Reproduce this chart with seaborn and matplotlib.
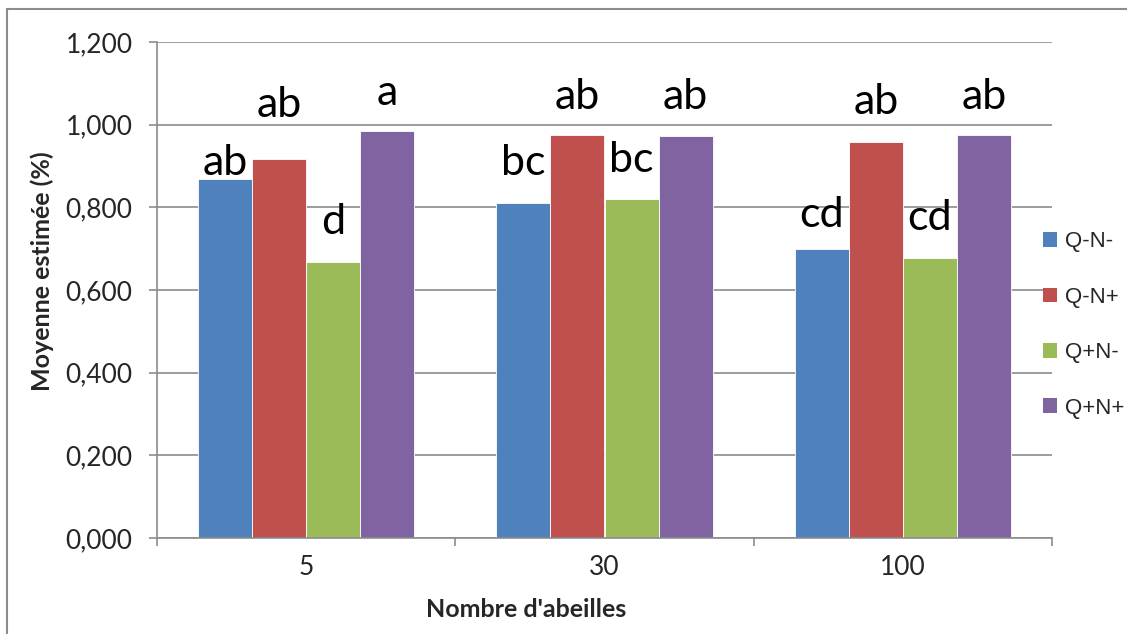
import numpy as np
import pandas as pd
import matplotlib
matplotlib.use('Agg')
import matplotlib.pyplot as plt
from matplotlib.patches import Rectangle
import seaborn as sns

sns.set_theme(style = 'white')
plt.rcParams['font.family'] = ['Lato', 'DejaVu Sans']

# data
groups = ['5', '30', '100']
series = ['Q-N-', 'Q-N+', 'Q+N-', 'Q+N+']
colors = ['#4F81BD', '#C0504D', '#9BBB59', '#8064A2']

values = {
    'Q-N-': [0.868, 0.810, 0.699],
    'Q-N+': [0.918, 0.975, 0.958],
    'Q+N-': [0.667, 0.821, 0.677],
    'Q+N+': [0.985, 0.972, 0.975],
}

letters = {
    'Q-N-': ['ab', 'bc', 'cd'],
    'Q-N+': ['ab', 'ab', 'ab'],
    'Q+N-': ['d', 'bc', 'cd'],
    'Q+N+': ['a', 'ab', 'ab'],
}

# vertical centre of each letter label (data units)
letter_y = {
    'Q-N-': [0.907, 0.907, 0.781],
    'Q-N+': [1.048, 1.067, 1.055],
    'Q+N-': [0.765, 0.915, 0.774],
    'Q+N+': [1.077, 1.067, 1.067],
}

y_ticks = [0.0, 0.2, 0.4, 0.6, 0.8, 1.0, 1.2]
y_tick_labels = ['0,000', '0,200', '0,400', '0,600', '0,800', '1,000', '1,200']

rows = []
for s in series:
    for g, v in zip(groups, values[s]):
        rows.append({'group': g, 'series': s, 'value': v})
df = pd.DataFrame(rows)

W, H = 1127, 634
fig = plt.figure(figsize = (W / 100, H / 100), dpi = 100)
ax = fig.add_axes([157 / W, 1 - 538 / H, (1052 - 157) / W, (538 - 42) / H])

# chart border
fig.patches.append(Rectangle((7 / W, -0.05), 1.1, 1 - 9 / H + 0.05, transform = fig.transFigure,
                             fill = False, edgecolor = '#8c8c8c', linewidth = 1.5))

sns.barplot(data = df, x = 'group', y = 'value', hue = 'series', order = groups, hue_order = series,
            palette = colors, width = 0.725, saturation = 1, edgecolor = 'white', linewidth = 0.6,
            legend = True, ax = ax)

ax.set_xlim(-0.5, 2.5)
ax.set_ylim(0, 1.2)
ax.set_yticks(y_ticks)
ax.set_yticklabels(y_tick_labels, fontsize = 19)
ax.yaxis.grid(True, color = '#8c8c8c', linewidth = 1.2)
ax.set_axisbelow(True)

ax.tick_params(axis = 'y', length = 5.5, width = 1.2, color = '#8c8c8c', pad = 12, direction = 'out', left = True)
ax.set_xticks([0, 1, 2])
ax.set_xticklabels(groups, fontsize = 19)
ax.set_xticks([-0.5, 0.5, 1.5, 2.5], minor = True)
ax.tick_params(axis = 'x', which = 'major', length = 0, pad = 12)
ax.tick_params(axis = 'x', which = 'minor', length = 6, width = 1.2, color = '#8c8c8c', direction = 'out', bottom = True)

for side in ['top', 'right']:
    ax.spines[side].set_visible(False)
for side in ['left', 'bottom']:
    ax.spines[side].set_color('#8c8c8c')
    ax.spines[side].set_linewidth(1.2)

ax.set_xlabel("Nombre d'abeilles", fontsize = 18, fontweight = 'bold')
ax.set_ylabel('Moyenne estimée (%)', fontsize = 18, fontweight = 'bold')
ax.xaxis.set_label_coords((526 - 157) / (1052 - 157), -(598 - 538) / (538 - 42))
ax.yaxis.set_label_coords(-(157 - 54) / (1052 - 157), (538 - 271) / (538 - 42))

# letter labels above bars
for i, s in enumerate(series):
    container = ax.containers[i]
    for j, bar in enumerate(container):
        cx = bar.get_x() + bar.get_width() / 2
        ax.text(cx, letter_y[s][j], letters[s][j], ha = 'center', va = 'center', fontsize = 31, color = 'black')

ax.get_legend().remove()
handles = [Rectangle((0, 0), 1, 1, facecolor = c, edgecolor = 'none') for c in colors]
fig.legend(handles, series, loc = 'center left', bbox_to_anchor = (1043 / W, 1 - 325 / H),
           frameon = False, borderpad = 0, borderaxespad = 0, handlelength = 0.65, handleheight = 0.65,
           handletextpad = 0.35, labelspacing = 1.55,
           prop = {'family': 'Liberation Sans', 'size': 16})

fig.savefig('out.png', dpi = 100)
